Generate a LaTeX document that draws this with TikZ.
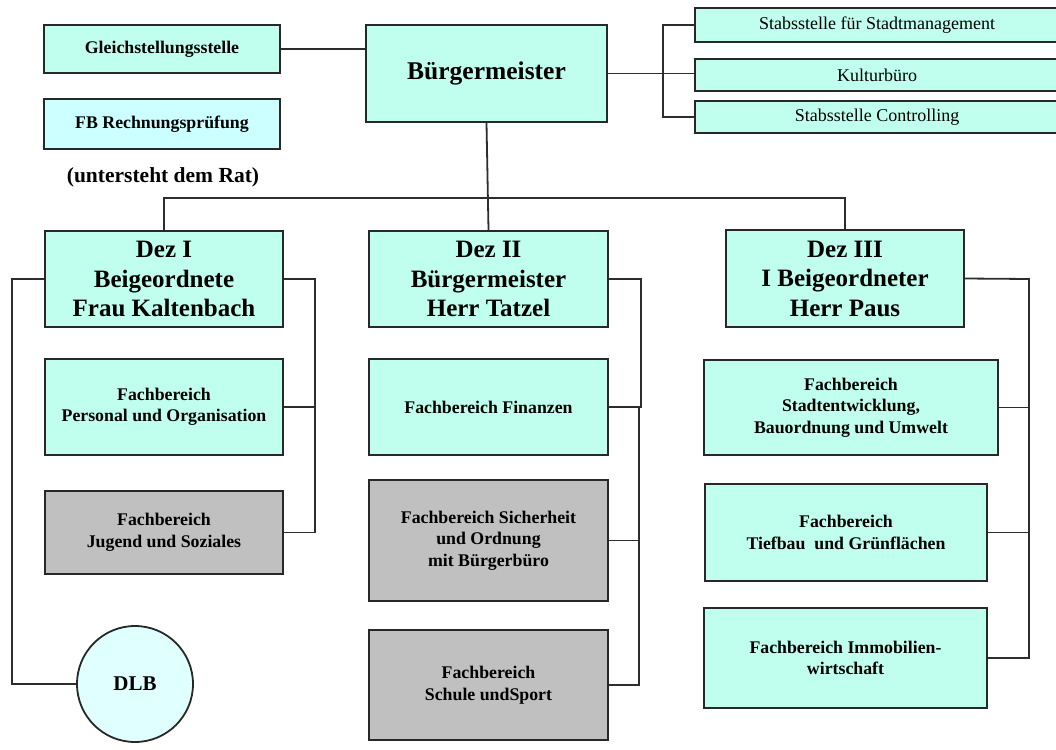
\documentclass[tikz,border=0pt]{standalone}
\usepackage{fontspec}
\setmainfont{Liberation Serif}
\definecolor{aqua}{RGB}{192,255,237}
\definecolor{lcyan}{RGB}{204,255,255}
\definecolor{vlcyan}{RGB}{224,255,255}
\definecolor{grayfill}{RGB}{192,192,192}
\definecolor{edge}{RGB}{40,40,40}
\definecolor{wire}{RGB}{45,45,45}
\begin{document}
\begin{tikzpicture}[x=1pt,y=-1pt,
  box/.style={draw=edge, line width=2pt, fill=aqua, inner sep=0pt, align=center,
    font=\fontsize{17.8}{21.5}\selectfont\bfseries},
  graybox/.style={box, fill=grayfill},
  dezbox/.style={box, font=\fontsize{25}{29.5}\selectfont\bfseries},
  stabbox/.style={box, line width=1.8pt, font=\fontsize{18}{21}\selectfont},
  wireline/.style={draw=wire, line width=1.8pt}]
\useasboundingbox (0,0) rectangle (1056,749);
\fill[white] (0,0) rectangle (1056,749);

% top row
\node[box, minimum width=236pt, minimum height=48pt] (gleich) at (162,49) {Gleichstellungsstelle};
\node[box, fill=lcyan, minimum width=236pt, minimum height=50pt] (rechn) at (162,124) {FB Rechnungsprüfung};
\node[font=\fontsize{21.5}{25}\selectfont\bfseries, inner sep=0pt] (rat) at (163,177) {(untersteht dem Rat)};
\node[dezbox, font=\fontsize{25.5}{30}\selectfont\bfseries, minimum width=241pt, minimum height=97pt] (bm) at (486.5,73.5) {Bürgermeister};

\node[stabbox, minimum width=364pt, minimum height=34pt] (stadtm) at (877,25) {Stabsstelle für Stadtmanagement};
\node[stabbox, minimum width=364pt, minimum height=32pt] (kultur) at (877,75) {Kulturbüro};
\node[stabbox, minimum width=364pt, minimum height=32pt] (contr) at (877,117) {Stabsstelle Controlling};

% Dez I column
\node[dezbox, minimum width=238pt, minimum height=96pt] (dez1) at (164,279) {Dez I\\Beigeordnete\\Frau Kaltenbach};
\node[box, minimum width=238pt, minimum height=96pt] (pers) at (164,407) {Fachbereich\\Personal und Organisation};
\node[graybox, minimum width=238pt, minimum height=83pt] (jug) at (164,532.5) {Fachbereich\\Jugend und Soziales};
\node[draw=edge, line width=1.8pt, fill=vlcyan, circle, minimum size=116pt, inner sep=0pt,
  font=\fontsize{21}{25}\selectfont\bfseries] (dlb) at (135,684) {DLB};

% Dez II column
\node[dezbox, minimum width=239pt, minimum height=96pt] (dez2) at (488.5,279) {Dez II\\Bürgermeister\\Herr Tatzel};
\node[box, minimum width=239pt, minimum height=96pt] (fin) at (488.5,407) {Fachbereich Finanzen};
\node[graybox, minimum width=239pt, minimum height=121pt] (sich) at (488.5,540.5) {Fachbereich Sicherheit\\und Ordnung\\mit Bürgerbüro};
\node[graybox, minimum width=239pt, minimum height=110pt] (schule) at (488.5,685) {Fachbereich\\Schule undSport};

% Dez III column
\node[dezbox, minimum width=238pt, minimum height=97pt] (dez3) at (845,278.5) {Dez III\\I Beigeordneter\\Herr Paus};
\node[box, minimum width=294pt, minimum height=95pt] (stadt) at (851,407.5) {Fachbereich\\Stadtentwicklung,\\Bauordnung und Umwelt};
\node[box, minimum width=282pt, minimum height=97pt] (tief) at (846,532.5) {Fachbereich\\Tiefbau~ und Grünflächen};
\node[box, minimum width=283pt, minimum height=100pt] (immo) at (845.5,658) {Fachbereich Immobilien-\\wirtschaft};

% connector points
\coordinate (bus) at (486.5,198);
\coordinate (stabx) at (663,75);
\coordinate (d1l) at (12,279);
\coordinate (d1r) at (315,279);
\coordinate (d1p) at (315,407);
\coordinate (d2r) at (641,279);
\coordinate (d2f) at (641,407);
\coordinate (d2a) at (639,407);
\coordinate (d2s) at (639,540.5);
\coordinate (d3r) at (1029,279);
\coordinate (d3s) at (1029,407.5);
\coordinate (d3t) at (1029,532.5);

% connectors
\draw[wireline] (gleich.east) -- (bm.west |- gleich.east);
\draw[wireline] (bm.east) -- (bm.east -| kultur.west);
\draw[wireline] (stadtm.west) -| (stabx) |- (contr.west);
\draw[wireline] (bm.south) -- (dez2.north);
\draw[wireline] (dez1.north) |- (bus) -| (dez3.north);

\draw[wireline] (dez1.west) -- (d1l) |- (dlb.west);
\draw[wireline] (dez1.east) -- (d1r) |- (jug.east);
\draw[wireline] (pers.east) -- (d1p);

\draw[wireline] (dez2.east) -- (d2r) -- (d2f) -- (fin.east);
\draw[wireline] (d2a) |- (schule.east);
\draw[wireline] (sich.east) -- (d2s);

\draw[wireline] (dez3.east) -- (d3r) |- (immo.east);
\draw[wireline] (stadt.east) -- (d3s);
\draw[wireline] (tief.east) -- (d3t);
\end{tikzpicture}
\end{document}
